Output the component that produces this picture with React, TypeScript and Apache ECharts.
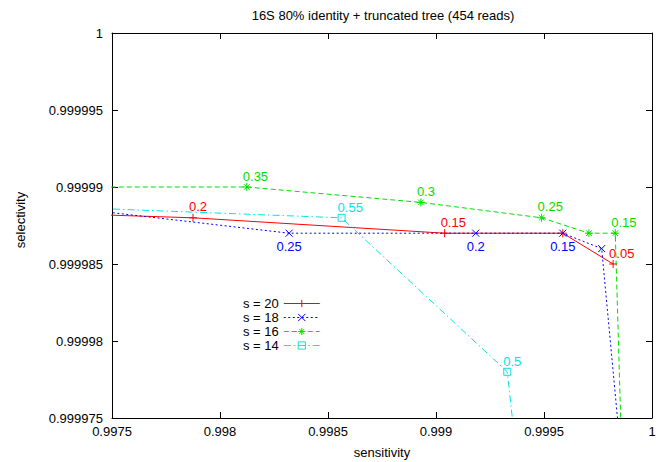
import React, { useEffect, useRef } from "react";
import * as echarts from "echarts";

const FONT = '"Liberation Sans", Arial, Helvetica, sans-serif';

// Axis ranges and tick steps
const sensMin = 0.9975;
const sensMax = 1;
const sensStep = 0.0005;
const selMin = 0.999975;
const selMax = 1;
const selStep = 0.000005;

const seriesNames = ["s = 20", "s = 18", "s = 16", "s = 14"];

// s = 20
const sens20 = [0.99565, 0.997875, 0.99904, 0.999587, 0.99982];
const sel20 = [0.999989, 0.999988, 0.999987, 0.999987, 0.999985];
const lab20 = ["", "0.2", "0.15", "", "0.05"];

// s = 18
const sens18 = [0.99709, 0.99832, 0.999184, 0.999587, 0.999767, 0.99994];
const sel18 = [0.999989, 0.999987, 0.999987, 0.999987, 0.999986, 0.99996];
const lab18 = ["", "0.25", "0.2", "0.15", "", ""];

// s = 16
const sens16 = [0.99705, 0.998124, 0.99893, 0.999489, 0.999708, 0.99983, 0.999886];
const sel16 = [0.99999, 0.99999, 0.999989, 0.999988, 0.999987, 0.999987, 0.99996];
const lab16 = ["", "0.35", "0.3", "0.25", "", "0.15", ""];

// s = 14
const sens14 = [0.9967, 0.998563, 0.99933, 0.99947];
const sel14 = [0.999989, 0.999988, 0.999978, 0.99996];
const lab14 = ["", "0.55", "0.5", ""];

const PLUS = "path://M0 5L10 5M5 0L5 10";
const CROSS = "path://M0 0L10 10M0 10L10 0";
const STAR = "path://M0 5L10 5M5 0L5 10M1.5 1.5L8.5 8.5M1.5 8.5L8.5 1.5";
const SQUARE = "path://M0 0L10 0L10 10L0 10Z";

function makeSeries(
  name: string,
  xs: number[],
  ys: number[],
  labels: string[],
  color: string,
  dash: number[] | "solid",
  symbol: string,
  symbolSize: number,
  below: boolean,
  hollow: boolean
) {
  return {
    name,
    type: "line",
    xAxisIndex: 0,
    yAxisIndex: 0,
    clip: true,
    symbol,
    symbolSize,
    showAllSymbol: true,
    lineStyle: { color, width: 1, type: dash },
    itemStyle: {
      color: hollow ? "rgba(255,255,255,0)" : color,
      borderColor: color,
      borderWidth: 1,
    },
    emphasis: { disabled: true },
    label: {
      show: false,
      position: below ? "bottom" : "top",
      distance: below ? 3 : 0,
      align: below ? "center" : "left",
      offset: below ? [0, 0] : [-4, 0],
      color,
      fontSize: 13,
      fontFamily: FONT,
    },
    data: xs.map((x, i) => ({
      value: [x, ys[i]],
      label: labels[i] ? { show: true, formatter: labels[i] } : { show: false },
    })),
  };
}

const fmt = (digits: number) => (v: number) => String(+v.toFixed(digits));

export default function App() {
  const ref = useRef<HTMLDivElement>(null);

  useEffect(() => {
    if (!ref.current) return;
    const chart = echarts.init(ref.current, undefined, { renderer: "svg" });

    const axisLine = { show: true, onZero: false, lineStyle: { color: "#000", width: 1 } };
    const axisTick = { show: true, inside: true, length: 6, lineStyle: { color: "#000", width: 1 } };
    const labelStyle = { color: "#000", fontSize: 13, fontFamily: FONT };

    chart.setOption({
      animation: false,
      backgroundColor: "#fff",
      grid: { left: 112, right: 10, top: 33, bottom: 44, containLabel: false },
      xAxis: [
        {
          type: "value",
          position: "bottom",
          min: sensMin,
          max: sensMax,
          interval: sensStep,
          axisLine,
          axisTick,
          axisLabel: { ...labelStyle, margin: 7, formatter: fmt(4) },
          splitLine: { show: false },
        },
        {
          type: "value",
          position: "top",
          min: sensMin,
          max: sensMax,
          interval: sensStep,
          axisLine,
          axisTick,
          axisLabel: { show: false },
          splitLine: { show: false },
        },
      ],
      yAxis: [
        {
          type: "value",
          position: "left",
          min: selMin,
          max: selMax,
          interval: selStep,
          axisLine,
          axisTick,
          axisLabel: { ...labelStyle, margin: 9, formatter: fmt(6) },
          splitLine: { show: false },
        },
        {
          type: "value",
          position: "right",
          min: selMin,
          max: selMax,
          interval: selStep,
          axisLine,
          axisTick,
          axisLabel: { show: false },
          splitLine: { show: false },
        },
      ],
      legend: {
        orient: "vertical",
        left: 238,
        top: 292,
        align: "right",
        itemWidth: 36,
        itemHeight: 9,
        itemGap: 1,
        selectedMode: false,
        lineStyle: { width: 1 },
        itemStyle: { borderWidth: 1 },
        textStyle: { ...labelStyle, lineHeight: 13 },
        data: seriesNames,
      },
      graphic: [
        {
          type: "text",
          x: 383,
          y: 15,
          style: {
            text: "16S 80% identity + truncated tree (454 reads)",
            font: `13px ${FONT}`,
            fill: "#000",
            align: "center",
            verticalAlign: "middle",
          },
        },
        {
          type: "text",
          x: 382,
          y: 452,
          style: {
            text: "sensitivity",
            font: `13px ${FONT}`,
            fill: "#000",
            align: "center",
            verticalAlign: "middle",
          },
        },
        {
          type: "text",
          x: 20,
          y: 220,
          rotation: Math.PI / 2,
          style: {
            text: "selectivity",
            font: `13px ${FONT}`,
            fill: "#000",
            align: "center",
            verticalAlign: "middle",
          },
        },
      ],
      series: [
        makeSeries(seriesNames[0], sens20, sel20, lab20, "#ff0000", "solid", PLUS, 8, false, false),
        makeSeries(seriesNames[1], sens18, sel18, lab18, "#0000ff", [2, 2.5], CROSS, 7, true, false),
        makeSeries(seriesNames[2], sens16, sel16, lab16, "#00dd00", [5, 3], STAR, 8, false, false),
        makeSeries(seriesNames[3], sens14, sel14, lab14, "#00e5e5", [7, 3, 1.5, 3], SQUARE, 7, false, true),
      ],
    });

    return () => chart.dispose();
  }, []);

  return (
    <div
      ref={ref}
      style={{ position: "fixed", left: 0, top: 0, width: 662, height: 462, background: "#fff" }}
    />
  );
}
